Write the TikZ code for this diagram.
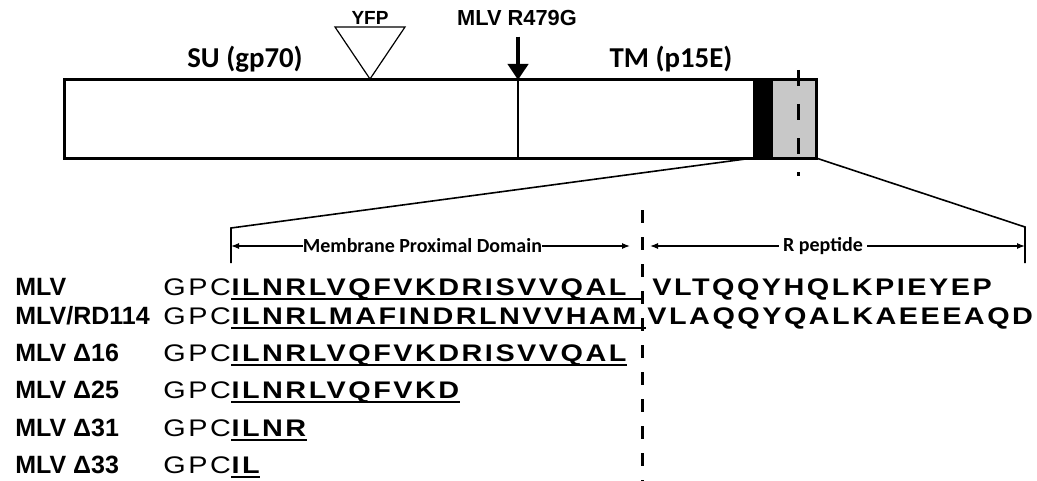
\documentclass[tikz,border=0pt]{standalone}
\usepackage{fontspec}
\setmainfont{Liberation Sans}
\newfontfamily\calfont{Carlito}
\newfontfamily\seqfont[LetterSpace=10.4,FakeStretch=1.2]{Liberation Sans}
\usetikzlibrary{arrows.meta,positioning}
\definecolor{rpep}{RGB}{200,200,200}

\begin{document}
\begin{tikzpicture}[x=0.5pt,y=-0.5pt,
    lbl/.style={font=\fontsize{12.5}{14}\selectfont\bfseries,anchor=base west,inner sep=0pt},
    gpc/.style={font=\fontsize{12}{14}\seqfont,anchor=base west,inner sep=0pt},
    seq/.style={font=\fontsize{12}{14}\seqfont\bfseries,anchor=base west,inner sep=0pt},
    dom/.style={font=\fontsize{10}{12}\calfont\bfseries,inner sep=0pt},
    sub/.style={font=\fontsize{14.4}{16}\calfont\bfseries,anchor=base,inner sep=0pt},
    span/.style={-{Latex[length=4pt,width=3pt]},line width=0.6pt},
    uline/.style={line width=1.3pt},
    zoomline/.style={line width=0.8pt},
    cut/.style={line width=1.5pt,dash pattern=on 6.5pt off 7pt}]
    \useasboundingbox (0,0) rectangle (1037,481);
    % envelope bar
    \fill (753,80) rectangle (773,158);
    \fill[rpep] (773,80) rectangle (816,158);
    \draw[line width=1pt] (518,80) -- (518,158);
    \draw[line width=1.5pt] (64,80) rectangle (816,158);
    \draw[line width=1.5pt,dash pattern=on 8pt off 9pt] (798,70) -- (798,176);
    \node[sub] (su) at (245,68) {SU (gp70)};
    \node[sub] (tm) at (671,68) {TM (p15E)};
    % insertions
    \node[font=\fontsize{9.5}{11}\selectfont\bfseries,anchor=base,inner sep=0pt] (yfp) at (370,25) {YFP};
    \draw[line width=0.6pt] (335,27) -- (405,27) -- (370,79) -- cycle;
    \node[font=\fontsize{10.9}{12}\selectfont\bfseries,anchor=base,inner sep=0pt] (mut) at (517,26) {MLV R479G};
    \coordinate (cleave) at (518,80);
    \draw[line width=2pt,-{Triangle[length=8pt,width=10pt]}] ([yshift=-5pt]mut.south -| cleave) -- (cleave);
    % zoom lines
    \coordinate (tmdL) at (753,158);
    \coordinate (envR) at (816,158);
    \coordinate (mpdL) at (231,228);
    \coordinate (rpR) at (1025,227);
    \draw[zoomline] (tmdL) -- (mpdL) -- ++(0,35);
    \draw[zoomline] (envR) -- (rpR) -- ++(0,36);
    \coordinate (cut) at (642,210);
    \draw[cut] (cut) -- (642,481);
    % domains
    \node[dom] (mpd) at (422.5,246) {Membrane Proximal Domain};
    \draw[span] (mpd.west) -- (mpd.west -| mpdL);
    \draw[span] (mpd.east) -- ([xshift=-6pt]mpd.east -| cut);
    \node[dom] (rp) at (823,246) {R peptide};
    \draw[span] ([xshift=-2pt]rp.west) -- ([xshift=4pt]rp.west -| cut);
    \draw[span] ([xshift=2pt]rp.east) -- (rp.east -| rpR);
    % sequences
    \node[lbl] (n1) at (15,295) {MLV};
    \node[gpc] (g1) at (163,295) {GPC};
    \node[seq] (m1) at (g1.base east) {ILNRLVQFVKDRISVVQAL};
    \node[seq] (r1) at (652,295) {VLTQQYHQLKPIEYEP};
    \node[lbl] (n2) at (15,324) {MLV/RD114};
    \node[gpc] (g2) at (163,324) {GPC};
    \node[seq] (m2) at (g2.base east) {ILNRLMAFINDRLNVVHAM};
    \node[seq] (r2) at (647,324) {VLAQQYQALKAEEEAQD};
    \node[lbl] (n3) at (15,361) {MLV Δ16};
    \node[gpc] (g3) at (163,361) {GPC};
    \node[seq] (m3) at (g3.base east) {ILNRLVQFVKDRISVVQAL};
    \node[lbl] (n4) at (15,398) {MLV Δ25};
    \node[gpc] (g4) at (163,398) {GPC};
    \node[seq] (m4) at (g4.base east) {ILNRLVQFVKD};
    \node[lbl] (n5) at (15,436) {MLV Δ31};
    \node[gpc] (g5) at (163,436) {GPC};
    \node[seq] (m5) at (g5.base east) {ILNR};
    \node[lbl] (n6) at (15,473) {MLV Δ33};
    \node[gpc] (g6) at (163,473) {GPC};
    \node[seq] (m6) at (g6.base east) {IL};
    \draw[uline] ([yshift=-2pt]m1.base west) -- ([yshift=-2pt]m1.base east -| cut);
    \draw[uline] ([yshift=-2pt]m2.base west) -- ([yshift=-2pt,xshift=2pt]m2.base east -| cut);
    \draw[uline] ([yshift=-2pt]m3.base west) -- ([yshift=-2pt]m3.base east);
    \draw[uline] ([yshift=-2pt]m4.base west) -- ([yshift=-2pt]m4.base east);
    \draw[uline] ([yshift=-2pt]m5.base west) -- ([yshift=-2pt]m5.base east);
    \draw[uline] ([yshift=-2pt]m6.base west) -- ([yshift=-2pt]m6.base east);
\end{tikzpicture}
\end{document}
